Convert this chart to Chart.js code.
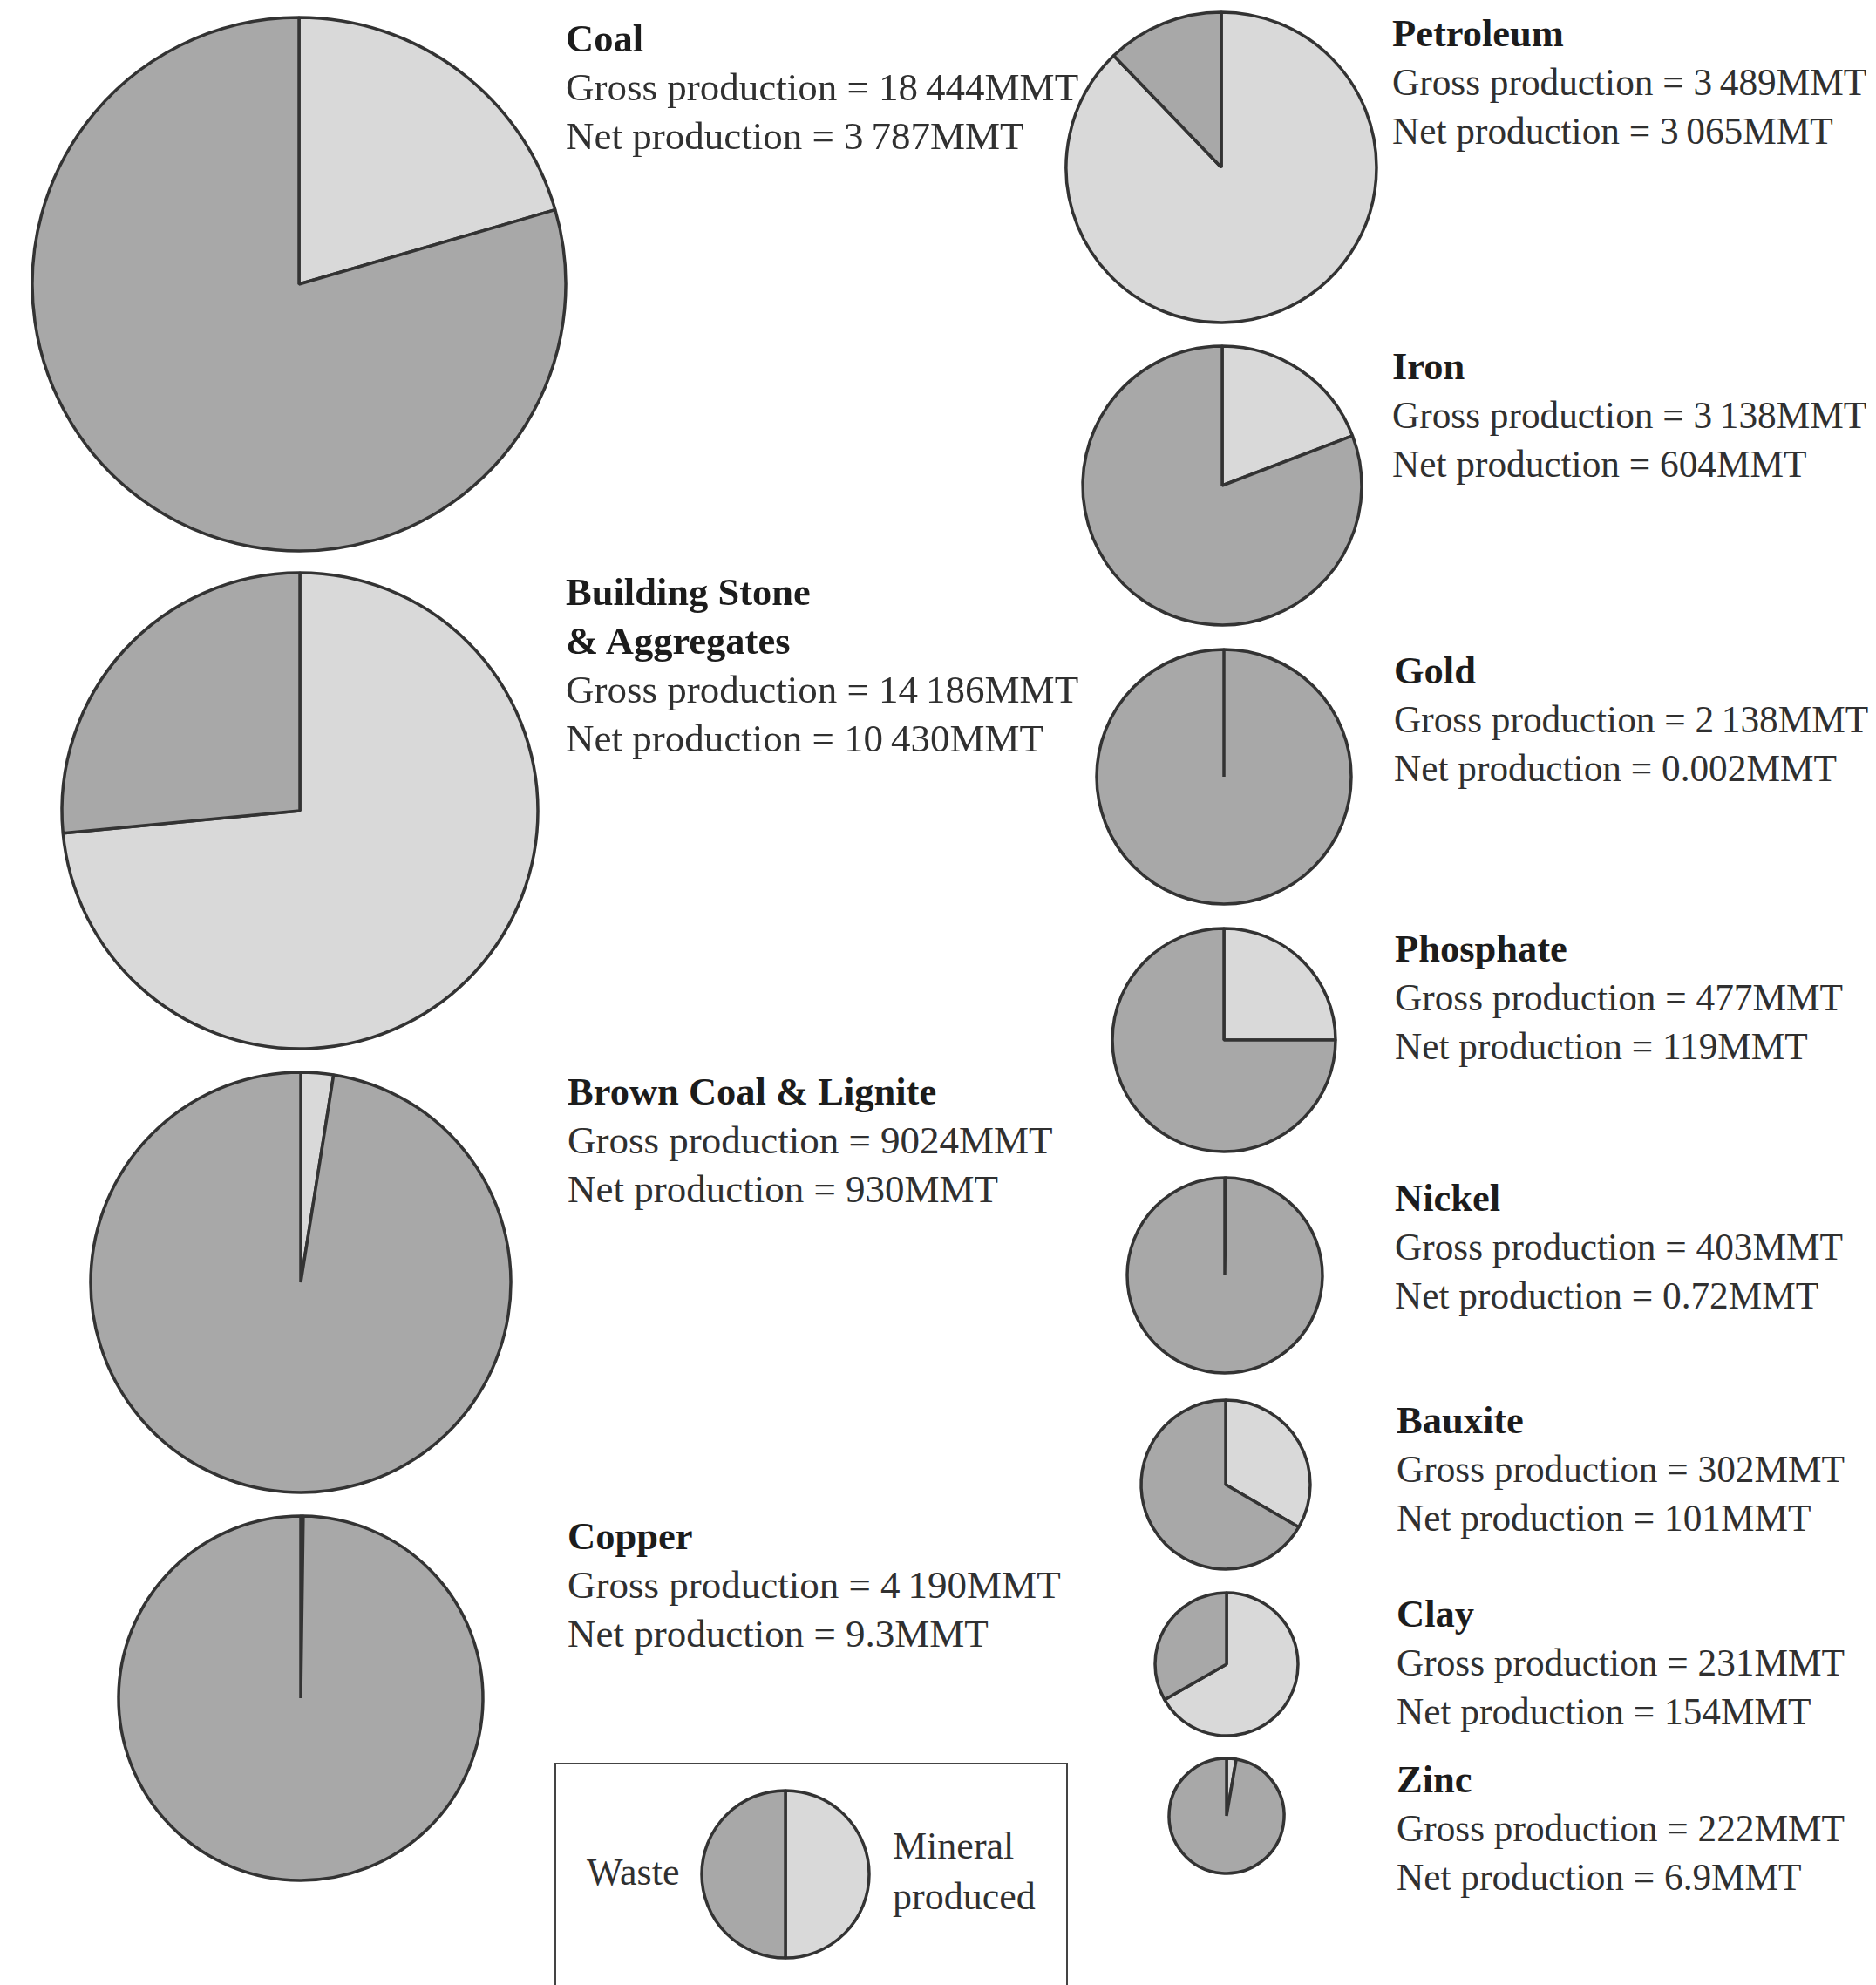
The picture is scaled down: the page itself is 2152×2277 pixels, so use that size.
<!DOCTYPE html>
<html>
<head>
<meta charset="utf-8">
<script src="https://cdn.jsdelivr.net/npm/chart.js@4/dist/chart.umd.min.js"></script>
<style>
  html, body { margin: 0; padding: 0; background: #fff; }
  #page { position: relative; width: 2152px; height: 2277px; overflow: hidden; background: #fff; }
  #page canvas { position: absolute; }
  .label { position: absolute; font-family: "Liberation Serif", "DejaVu Serif", serif; font-size: 44.5px; line-height: 56px; color: #303030; white-space: pre; }
  .label b { font-size: 44.5px; color: #1c1c1c; }
  #legendBox { position: absolute; left: 636px; top: 2022px; width: 589px; height: 260px; border: 2px solid #444; box-sizing: border-box; }
  .legendText { position: absolute; font-family: "Liberation Serif", "DejaVu Serif", serif; font-size: 44px; line-height: 58px; color: #303030; white-space: pre; }
</style>
</head>
<body>
<div id="page">
  <div id="legendBox"></div>
  <div class="legendText" style="left:673px; top:2119px;">Waste</div>
  <div class="legendText" style="left:1024px; top:2089px;">Mineral
produced</div>
</div>
<script>
// minerals, in the order they are drawn
var minerals = ['Coal', 'Petroleum', 'Iron', 'Building Stone\n& Aggregates', 'Gold', 'Phosphate',
    'Brown Coal & Lignite', 'Nickel', 'Bauxite', 'Copper', 'Clay', 'Zinc'];
var grossLabels = ['18\u2009444', '3\u2009489', '3\u2009138', '14\u2009186', '2\u2009138', '477',
    '9024', '403', '302', '4\u2009190', '231', '222'];
var netLabels = ['3\u2009787', '3\u2009065', '604', '10\u2009430', '0.002', '119',
    '930', '0.72', '101', '9.3', '154', '6.9'];
// share of each pie given to "mineral produced" (%), as drawn
var mineralShare = [20.5, 87.8, 19.2, 73.5, 0.0001, 25, 2.5, 0.18, 33.4, 0.22, 66.7, 2.7];
var legendShare = [50, 50];

// layout: pie centre / radius, label position and text size
var pieLayout = [
    {x: 343, y: 326, r: 306, tx: 649, ty: 16, fs: 45},
    {x: 1401, y: 192, r: 178, tx: 1597, ty: 10, fs: 43.3},
    {x: 1402, y: 557, r: 160, tx: 1597, ty: 392, fs: 43.3},
    {x: 344, y: 930, r: 273, tx: 649, ty: 651, fs: 45},
    {x: 1404, y: 891, r: 146, tx: 1599, ty: 741, fs: 43.3},
    {x: 1404, y: 1193, r: 128, tx: 1600, ty: 1060, fs: 43.3},
    {x: 345, y: 1471, r: 241, tx: 651, ty: 1224, fs: 45},
    {x: 1405, y: 1463, r: 112, tx: 1600, ty: 1346, fs: 43.3},
    {x: 1406, y: 1703, r: 97, tx: 1602, ty: 1601, fs: 43.3},
    {x: 345, y: 1948, r: 209, tx: 651, ty: 1734, fs: 45},
    {x: 1407, y: 1909, r: 82, tx: 1602, ty: 1823, fs: 43.3},
    {x: 1407, y: 2083, r: 66, tx: 1602, ty: 2013, fs: 43.3}
];
var legendLayout = {x: 901, y: 2150, r: 96};

var lightGrey = '#d9d9d9';
var darkGrey = '#a8a8a8';
var edge = '#333333';

var page = document.getElementById('page');

function drawPie(share, layout, colors) {
    var size = layout.r * 2 + 12;
    var canvas = document.createElement('canvas');
    canvas.width = size;
    canvas.height = size;
    canvas.style.left = (layout.x - size / 2) + 'px';
    canvas.style.top = (layout.y - size / 2) + 'px';
    canvas.style.width = size + 'px';
    canvas.style.height = size + 'px';
    page.appendChild(canvas);
    new Chart(canvas.getContext('2d'), {
        type: 'pie',
        data: {
            labels: ['Mineral produced', 'Waste'],
            datasets: [{
                data: share,
                backgroundColor: colors,
                borderColor: edge,
                borderWidth: 3.5,
                radius: layout.r
            }]
        },
        options: {
            responsive: false,
            devicePixelRatio: 1,
            animation: false,
            events: [],
            layout: {padding: 0},
            plugins: {legend: {display: false}, tooltip: {enabled: false}}
        }
    });
}

for (var i = 0; i < minerals.length; i++) {
    drawPie([mineralShare[i], 100 - mineralShare[i]], pieLayout[i], [lightGrey, darkGrey]);

    var lbl = document.createElement('div');
    lbl.className = 'label';
    lbl.style.left = pieLayout[i].tx + 'px';
    lbl.style.top = pieLayout[i].ty + 'px';
    lbl.style.fontSize = pieLayout[i].fs + 'px';
    var title = document.createElement('b');
    title.textContent = minerals[i];
    lbl.appendChild(title);
    lbl.appendChild(document.createTextNode('\nGross production = ' + grossLabels[i] + 'MMT' +
        '\nNet production = ' + netLabels[i] + 'MMT'));
    page.appendChild(lbl);
}

// legend pie: right half mineral, left half waste
drawPie(legendShare, legendLayout, [lightGrey, darkGrey]);
</script>
</body>
</html>
